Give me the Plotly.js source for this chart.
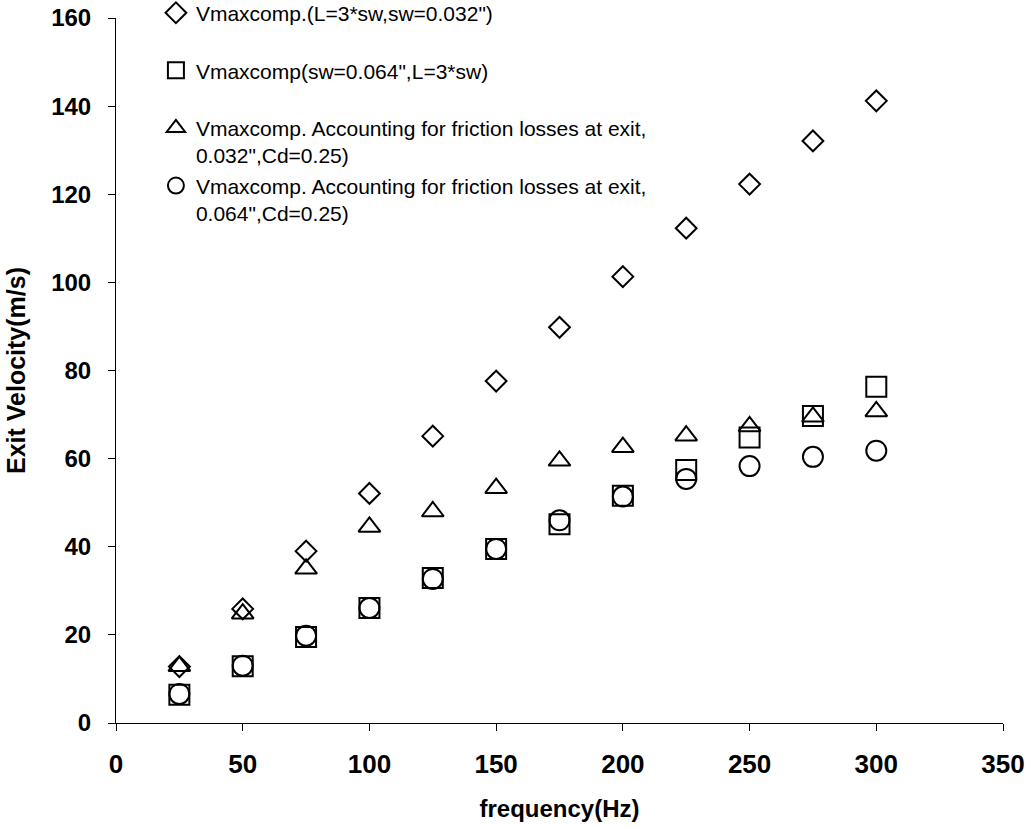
<!DOCTYPE html>
<html>
<head>
<meta charset="utf-8">
<script src="https://cdn.plot.ly/plotly-3.0.1.min.js"></script>
<style>
html,body{margin:0;padding:0;background:#fff;}
#chart{width:1026px;height:829px;}
</style>
</head>
<body>
<div id="chart"></div>
<script>
const frequency = [25, 50, 75, 100, 125, 150, 175, 200, 225, 250, 275, 300];
const vmax032 = [12.8, 25.9, 39.0, 52.1, 65.1, 77.6, 89.8, 101.3, 112.3, 122.3, 132.1, 141.2];
const vmax064 = [6.4, 12.9, 19.5, 26.1, 32.9, 39.5, 45.1, 51.6, 57.4, 64.8, 69.7, 76.3];
const vfric032 = [12.9, 24.8, 35.0, 44.5, 48.0, 53.3, 59.5, 62.6, 65.2, 67.3, 69.5, 70.7];
const vfric064 = [6.6, 13.0, 19.8, 26.1, 32.7, 39.5, 46.0, 51.4, 55.4, 58.3, 60.4, 61.8];
const seriesNames = [
  "Vmaxcomp.(L=3*sw,sw=0.032\")<br> ",
  "Vmaxcomp(sw=0.064\",L=3*sw)<br> ",
  "Vmaxcomp. Accounting for friction losses at exit,<br>0.032\",Cd=0.25)",
  "Vmaxcomp. Accounting for friction losses at exit,<br>0.064\",Cd=0.25)"
];
const xTicks = [0, 50, 100, 150, 200, 250, 300, 350];
const yTicks = [0, 20, 40, 60, 80, 100, 120, 140, 160];

function mk(y, name, symbol, size, grp) {
  return {
    x: frequency, y: y, name: name, type: 'scatter', mode: 'markers',
    legendgroup: grp,
    marker: {symbol: symbol, size: size, color: 'black', line: {color: 'black', width: 2}},
    cliponaxis: false
  };
}
const data = [
  mk(vmax032, seriesNames[0], 'diamond-open', 16, 'a'),
  mk(vmax064, seriesNames[1], 'square-open', 20, 'b'),
  mk(vfric032, seriesNames[2], 'triangle-up-open', 19, 'c'),
  mk(vfric064, seriesNames[3], 'circle-open', 20, 'd')
];
const tickFontX = {family: 'Liberation Sans, Arial, sans-serif', size: 26, color: 'black', weight: 'bold'};
const tickFontY = {family: 'Liberation Sans, Arial, sans-serif', size: 24, color: 'black', weight: 'bold'};
const layout = {
  width: 1026, height: 829,
  margin: {l: 116, r: 23, t: 18, b: 106, pad: 0, autoexpand: false},
  paper_bgcolor: 'white', plot_bgcolor: 'white',
  showlegend: true,
  legend: {
    x: 0.045, y: 1.036, xanchor: 'left', yanchor: 'top',
    valign: 'top', tracegroupgap: 0,
    bgcolor: 'rgba(0,0,0,0)', borderwidth: 0,
    font: {family: 'Liberation Sans, Arial, sans-serif', size: 21, color: 'black'}
  },
  xaxis: {
    range: [0, 350], tickvals: xTicks, ticktext: xTicks.map(String),
    showgrid: false, zeroline: false, showline: true, linecolor: 'black', linewidth: 1,
    ticks: 'outside', ticklen: 7, tickwidth: 1, tickcolor: 'black',
    ticklabelstandoff: 11,
    tickfont: tickFontX,
    title: {text: 'frequency(Hz)', standoff: 21, font: {family: 'Liberation Sans, Arial, sans-serif', size: 24, color: 'black', weight: 'bold'}}
  },
  yaxis: {
    range: [0, 160], tickvals: yTicks, ticktext: yTicks.map(String),
    showgrid: false, zeroline: false, showline: true, linecolor: 'black', linewidth: 1,
    ticks: 'outside', ticklen: 7, tickwidth: 1, tickcolor: 'black',
    ticklabelstandoff: 12,
    tickfont: tickFontY,
    title: {text: 'Exit Velocity(m/s)', standoff: 18, font: {family: 'Liberation Sans, Arial, sans-serif', size: 25, color: 'black', weight: 'bold'}}
  }
};
Plotly.newPlot('chart', data, layout, {displayModeBar: false, staticPlot: true});
</script>
</body>
</html>
